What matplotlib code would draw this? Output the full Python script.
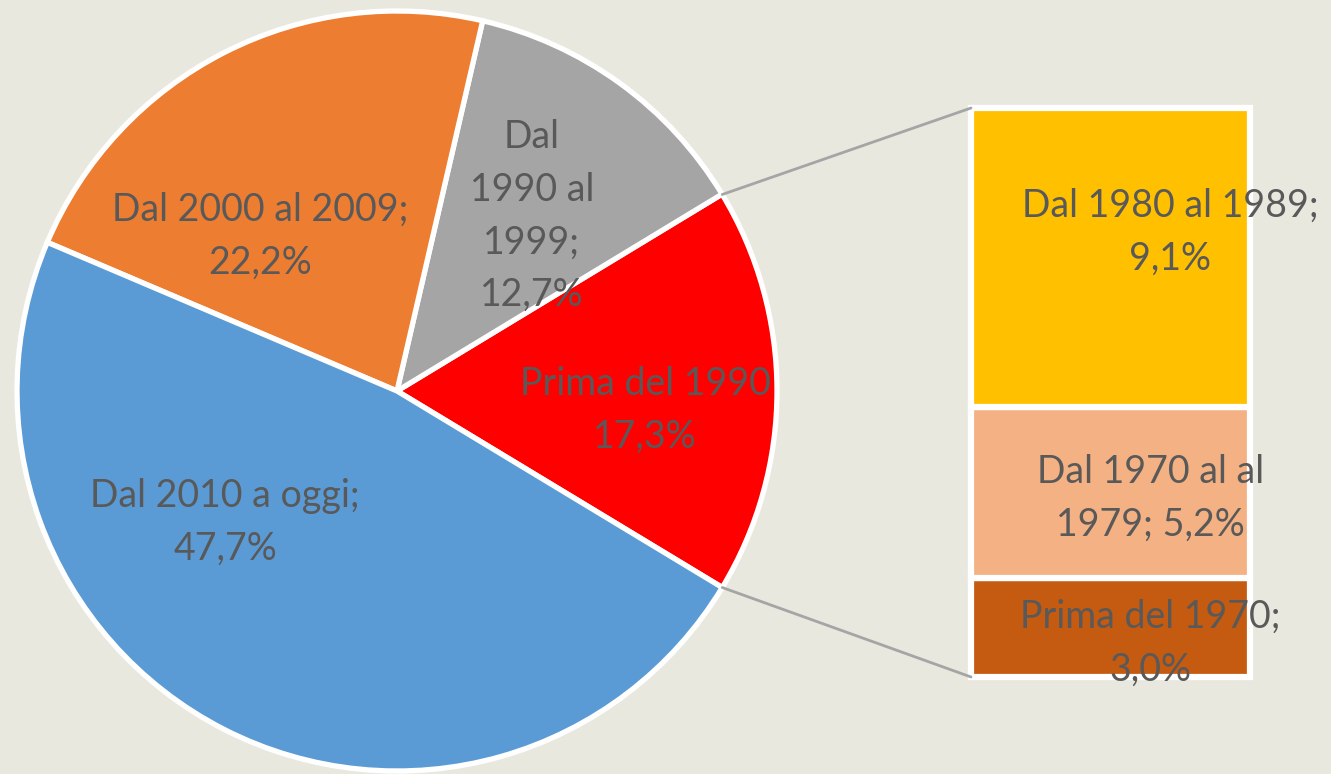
import matplotlib.pyplot as plt
from matplotlib.patches import ConnectionPatch
import numpy as np

# pie data (the red slice is broken down in the bar)
pie_labels = ["Prima del 1990\n17,3%", "Dal\n1990 al\n1999;\n12,7%",
              "Dal 2000 al 2009;\n22,2%", "Dal 2010 a oggi;\n47,7%"]
pie_values = [17.3, 12.7, 22.2, 47.7]
pie_colors = ["#FF0000", "#A5A5A5", "#ED7D31", "#5B9BD5"]

# bar data (bottom to top)
bar_labels = ["Prima del 1970;\n3,0%", "Dal 1970 al al\n1979; 5,2%", "Dal 1980 al 1989;\n9,1%"]
bar_values = [3.0, 5.2, 9.1]
bar_colors = ["#C55A11", "#F4B183", "#FFC000"]

bg = "#E9E8DF"
txt_color = "#595959"
W, H = 1331, 774
fs = 27
ls = 1.58

plt.rcParams['font.family'] = ['Lato', 'DejaVu Sans']

fig = plt.figure(figsize=(W / 100, H / 100), dpi=100)
fig.patch.set_facecolor(bg)

# pie axes: centre (397, 391) px, radius 380 px
ax = fig.add_axes([17 / W, 3 / H, 760 / W, 760 / H])
half = pie_values[0] / 2 * 3.6
wedges, _ = ax.pie(pie_values, colors=pie_colors, startangle=-half, counterclock=True,
                   radius=1, wedgeprops=dict(edgecolor="white", linewidth=3.8))
ax.set_xlim(-1, 1)
ax.set_ylim(-1, 1)
ax.axis("off")

# label positions in pixels of the picture
pie_label_px = [(645, 410), (532, 216), (260, 236), (225, 522)]
for lab, (px, py) in zip(pie_labels, pie_label_px):
    ax.text((px - 397) / 380, (391 - py) / 380, lab, ha="center", va="center",
            fontsize=fs, color=txt_color, linespacing=ls)

# bar axes
bx = fig.add_axes([971 / W, (H - 677) / H, 279 / W, 569 / H])
bottoms = np.concatenate([[0], np.cumsum(bar_values)[:-1]])
bx.bar(0, bar_values, bottom=bottoms, width=1, color=bar_colors,
       edgecolor="white", linewidth=4.5, clip_on=False)
bx.set_xlim(-0.5, 0.5)
bx.set_ylim(0, sum(bar_values))
bx.axis("off")

bar_label_pos = [(0.142, 1.03), (0.142, 5.44), (0.213, 13.53)]
for lab, (x, y) in zip(bar_labels, bar_label_pos):
    bx.text(x, y, lab, ha="center", va="center", fontsize=fs,
            color=txt_color, linespacing=ls, clip_on=False)

# connecting lines
theta = np.deg2rad(half)
for sign, ytop in [(1, sum(bar_values)), (-1, 0)]:
    con = ConnectionPatch(xyA=(np.cos(theta), sign * np.sin(theta)), coordsA=ax.transData,
                          xyB=(-0.5, ytop), coordsB=bx.transData,
                          color="#A5A5A5", linewidth=2)
    fig.add_artist(con)

plt.savefig("out.png", dpi=100, facecolor=bg)
